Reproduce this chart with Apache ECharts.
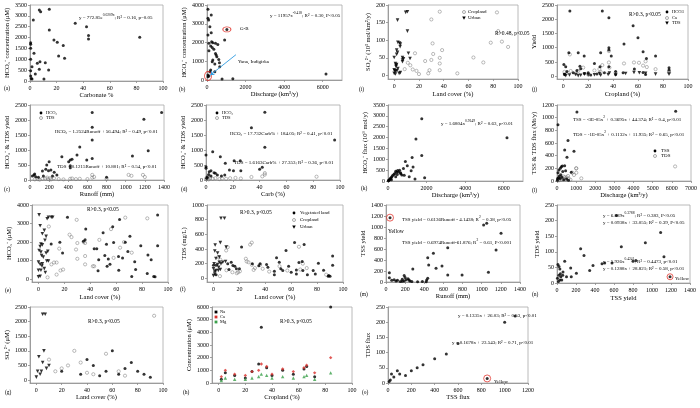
<!DOCTYPE html>
<html><head><meta charset="utf-8">
<script src="https://cdn.jsdelivr.net/npm/echarts@6/dist/echarts.min.js"></script>
<style>html,body{margin:0;padding:0;background:#fff}#c{width:700px;height:408px}</style>
</head><body><div id="c"></div>
<script>
// ---------- DATA ----------
// (a) Carbonate % vs HCO3- concentration
const A_carb = [0.5,0.5,0.5,0.5,0.5,0.5,1,1.5,1.5,3,2.5,4,5.5,7,8,7,7.5,10.5,11.5,14,14.5,14.5,18,20.5,21.5,25,26,34,42.5,44,44,82.5];
const A_hco3 = [1765,1690,1505,1000,475,230,120,90,660,1275,2810,320,815,3270,3190,540,890,90,845,510,3300,2350,1890,1780,1150,1630,1045,2655,2500,2090,1935,2010];
// (b) Discharge vs HCO3-
const B_q = [50,220,50,85,150,220,50,1030,915,100,240,300,440,560,190,270,100,355,440,475,510,300,270,610,645,405,660,190,150,405,50,50,100,780,1340,6170];
const B_hco3 = [3770,3470,3290,3200,2840,2520,2400,2700,2130,1955,2040,1990,1955,1900,1810,1740,1565,1635,1420,1330,1245,1065,980,1100,925,850,710,530,445,445,265,180,210,55,70,320];
const B_GB = [[1030,2700]];
const B_Yana = [[55,215]];
const B_arrow = [[1500,1350],[170,260]];
// (i) Land cover vs SO4 yield
const I_crop_x = [36.8,83,30,84,78,87,92,31,38.7,31.5,16.8,36.8,11,13,30,36.8,25,8.5,15,18,20,28.5,27.5,36.8,51,64,72];
const I_crop_y = [181,179,159,126,93,96,81,91,72,61,63,50,36,29,44,34,41,18,17,13,4,15,6,15,6,51,37];
const I_urb_x = [2.7,9.3,10.7,10.7,3,4.3,5,4.8,2,2.7,2,0,6.7,7.5,6.7,6.7,1,1.5,1.5,11.5,12.8,0,0.5,1.3,2.3,0,1,4,5,3,2];
const I_urb_y = [157,179,181,126,94,92,89,82,72,66,60,51,51,47,44,39,34,29,25,63,48,16,13,12,14,6,4,6,8,20,31];
// (j) Cropland vs yields
const J_hco3_x = [5.3,31.3,36.6,56,48.7,59.9,36.6,36.6,4.5,12,30,16.8,38.5,64,66.7,74,0.5,25,2,13.4,36.6,84.8,84.8,11,20,14,29.5,48,42,42,27,8,3,1,17,22,33,64,66,57];
const J_hco3_y = [2290,2290,2054,1772,1127,1350,998,915,822,822,822,704,704,857,620,704,411,446,329,352,329,294,220,200,120,260,330,120,160,60,80,120,160,60,90,40,120,130,60,250];
const J_ca_x = [5.3,36.6,60.7,48.7,56.7,66,36.6,84.8,74,31.3,29,25,37,16,12,6,1,2,10,20,42,64,67,84.8,30];
const J_ca_y = [763,880,470,446,481,520,481,176,246,387,250,200,300,300,180,180,150,80,90,60,120,370,320,130,150];
const J_tds_x = [50,56.7,61,74,84.8,66,37,36,30,25,20,14,10,5,2,1,42,29,17,12];
const J_tds_y = [94,130,120,70,70,100,110,60,30,50,40,30,60,40,20,50,40,90,70,20];
// (c) Runoff vs yields
const C_hco3_x = [650,650,650,650,520,491,439,421,404,421,421,593,333,200,175,165,218,193,130,253,281,25,42,49,60,140,235,88,1190,1375,1235,1070,800];
const C_hco3_y = [2250,1760,1330,720,1100,833,689,667,611,478,411,667,778,611,500,356,333,311,300,256,167,133,167,200,111,133,133,89,2022,2250,978,800,90];
const C_tds_x = [50,80,100,130,160,190,220,250,300,350,420,440,480,520,600,650,650,670,800,1030,1060,1180,1200,180,210];
const C_tds_y = [20,30,10,40,50,30,20,60,30,20,40,50,30,40,30,80,170,100,40,170,140,170,100,80,60];
// (d) Carb % vs yields
const D_hco3_x = [43.9,33.9,43.9,96,0,0,0,5,10.7,14.4,2.4,3.7,6,7,8.5,3.7,11.5,14,17.5,20.5,21,25.6,26,40,42,1,0.5,2];
const D_hco3_y = [2255,1744,1088,1330,830,445,390,944,777,555,278,311,244,222,167,133,133,167,333,311,644,644,311,355,422,100,60,180];
const D_tds_x = [33.9,43.9,43.9,42,82.5,0,1,2,3,5,7,10,12,15,18,22,26,0.5,1.5];
const D_tds_y = [100,180,230,120,110,30,50,20,60,40,60,30,50,40,60,70,50,80,120];
// (k) Discharge vs HCO3- flux
const K_q = [1750,1450,1750,1250,1300,900,1000,1200,800,600,500,400,450,550,650,300,350,480,660,720,840,1100,1400,1900,6170,200,160,100,60,40,120,240,400,20,180];
const K_f = [2870,1930,1180,1080,640,900,700,470,580,500,480,450,400,420,380,300,350,300,330,280,260,200,90,150,1990,200,150,80,50,30,120,250,200,10,60];
// (l) Discharge vs TSS & TDS flux
const L_tss_x = [50,1040,6200,574,400,887,522,226,278,400,52,104,174,748,300,450,200,120,80,30,150,250,350,500,600,20];
const L_tss_y = [890,1090,1100,640,490,470,374,226,237,242,132,174,200,137,150,160,100,80,50,40,40,60,20,30,10,10];
const L_tds_x = [1009,1009,1270,6170,887,574,400,300,200,250,450,500,600,150,100,50,700,350,800,1000];
const L_tds_y = [200,130,42,230,95,79,58,40,50,20,30,60,40,20,10,15,20,70,130,200];
// (e) Land cover vs HCO3-
const E_veg_x = [9.8,16.5,18.6,22.4,36.5,36,34.7,43,46.5,46,49.9,52.5,51.2,53.9,53,55.2,57.3,61.8,62.6,64.9,62,70.6,69,67,74.3,75,72,79,84.5,87,84,89,92,92,90,58,45];
const E_veg_y = [1900,1990,1410,3340,2700,2130,2040,1640,1050,460,2510,1890,1280,1090,700,800,2830,1230,3220,1140,480,2310,1500,1990,940,520,150,1800,1300,1050,310,140,3460,1800,130,1980,1640];
const E_crop_x = [8,24,25.5,29.5,35,36,29,30,36,30,14,16,12,19,17,14,10,7,42,47,56,63,67,66,72,84,58,36,43];
const E_crop_y = [2840,2400,2270,3200,2000,1950,1600,1100,800,1950,900,1650,900,520,470,250,800,100,700,2120,2700,1700,3320,2000,1430,3280,1150,1250,700];
const E_urb_x = [0.5,1.3,6.7,7.7,9.9,11,3,4.5,5.9,5,1.9,1.3,3,0.5,1.9,2.4,3.7,5.9,7.2,6.4,7.7,0,1.3,3,1.9,0,1.3,0,4.5,5.3,2.7];
const E_urb_y = [3470,2880,3260,3340,3340,3340,2450,2630,2310,2100,1900,1760,1850,1550,1460,1280,1190,1410,1500,980,980,920,800,830,480,480,160,125,570,360,710];
// (f) Land cover vs TDS
const F_veg_x = [21.7,56,62.6,70,92,92,48.7,50.8,52,53.5,47,47,58,60,64,64,66,68.5,69,72.5,77,78.6,81,85,88.6,90,89,41,42,11,13.7,15,16.5,17.7,36,35,30,20,12,2,1,2,0];
const F_veg_y = [427,380,487,460,303,180,280,218,129,106,97,50,166,83,115,60,216,230,106,50,106,60,207,110,30,30,40,188,152,200,218,175,164,129,200,170,200,130,120,180,100,50,180];
const F_crop_x = [29.6,28.3,25,25.6,27,29.6,31,32,36,38,9.8,11,3.7,5.3,14.6,19,20.4,43,51,57,67,66,69,72,87,5,10,18];
const F_crop_y = [487,460,267,230,220,184,115,140,184,130,380,425,290,253,83,83,96,92,166,106,120,430,200,140,50,30,110,70];
const F_urb_x = [5.8,8.5,5.3,1.3,9.8,1,3.2,4.5,1.9,4.5,0.5,3.2,5.8,7.2,9.3,0,1.9,3.7,0,1,5.3,4];
const F_urb_y = [820,820,487,455,425,372,345,290,270,220,198,188,198,220,230,130,106,106,37,60,120,150];
// (m) Runoff vs TSS yield
const M_x = [35,35,1020,1052,1202,1150,1070,645,495,436,446,523,585,280,645,795,436,425,60,85,105,150,170,190,200,210,230,250,270,330,380,420,190,120,240,170];
const M_y = [170,79,1036,1067,885,582,176,624,521,442,309,248,291,236,127,127,67,36,30,40,20,10,50,120,80,40,60,20,10,5,10,5,20,30,35,15];
const M_yellow = [[42,1170]];
// (n) TSS yield vs TDS yield
const N_x = [625,1091,930,677,249,284,579,474,502,379,344,81,144,204,63,10,21,30,800,830,1126,40,50,15,100,5,20,35,60,150,30];
const N_y = [216,162,129,116,110,88,64,62,64,56,40,70,48,31,35,59,53,45,70,72,84,20,10,5,20,15,25,30,25,20,10];
const N_yellow = [[1190,20]];
// (g) Land cover vs SO4
const G_veg_x = [20,35,45,55,60,65,70,80,90,50,40,75,85];
const G_veg_y = [300,200,500,300,1000,200,400,300,100,150,700,600,200];
const G_crop_x = [93,30,25,15,35,45,55,65,70,10,20,40];
const G_crop_y = [2200,1000,500,300,600,200,900,300,150,700,400,250];
const G_urb_x = [5,7,2,5,8,1,3,0,10,6,4];
const G_urb_y = [2250,2250,800,600,400,300,200,100,500,1000,300];
// (h) Cropland vs concentrations
const H_na_x = [32,84,30,36,5,12,25,48,56,64,66,72,2,20,40];
const H_na_y = [4400,6000,1500,1200,800,600,900,1000,700,1100,1300,500,300,400,600];
const H_ca_x = [84,32,36,5,12,25,48,56,64,66,72,2,20,40,30];
const H_ca_y = [2000,1500,1300,1000,700,900,1100,900,1200,1400,800,500,600,700,1000];
const H_mg_x = [32,36,5,12,25,48,56,64,66,72,2,20,40,84,30];
const H_mg_y = [700,600,400,300,400,500,400,500,600,300,200,300,400,800,500];
// (o) TSS flux vs TDS flux
const O_x = [1090,1000,600,500,400,300,250,200,100,50,20,150,80,30,10];
const O_y = [220,200,130,95,80,60,50,40,30,20,10,25,40,30,5];
const O_yellow = [[850,15]];

// ---------- BUILD ----------
const FONT = 'Liberation Serif';
const grids=[], xAxes=[], yAxes=[], series=[], graphics=[];
const zip=(xs,ys)=>xs.map((x,i)=>[x,ys[i]]);
function ticks(a,b,s){const r=[];for(let v=a;v<=b+1e-9;v+=s)r.push(+v.toFixed(6));return r;}
function axisCfg(gi,a,dim){
  return {gridIndex:gi,type:'value',min:a.min,max:a.max,
    name:a.name,nameLocation:'middle',nameGap:a.gap,nameRotate:dim==='y'?90:0,
    nameTextStyle:{fontFamily:FONT,fontSize:6.5,color:'#000'},
    axisLine:{show:true,onZero:false,lineStyle:{color:'#8c8c8c',width:0.8}},
    axisTick:{show:true,length:2,customValues:a.ticks,lineStyle:{color:'#8c8c8c',width:0.8}},
    axisLabel:{customValues:a.ticks,fontFamily:FONT,fontSize:6,color:'#000',margin:dim==='y'?3:4,hideOverlap:false,formatter:(v)=>String(v)},
    splitLine:{show:false}};
}
function panel(box,xa,ya){
  const gi=grids.length;
  grids.push({left:box[0],top:box[1],width:box[2],height:box[3],show:true,borderColor:'#a8a8a8',borderWidth:0.8});
  xAxes.push(axisCfg(gi,xa,'x'));
  yAxes.push(axisCfg(gi,ya,'y'));
  return gi;
}
const MK={
  dot:{symbol:'circle',symbolSize:3,itemStyle:{color:'#000'}},
  open:{symbol:'circle',symbolSize:3.2,itemStyle:{color:'rgba(0,0,0,0)',borderColor:'#707070',borderWidth:0.6}},
  tri:{symbol:'triangle',symbolSize:3.6,symbolRotate:180,itemStyle:{color:'#000'}},
  red:{symbol:'diamond',symbolSize:3.4,itemStyle:{color:'#d9302c'}},
  green:{symbol:'triangle',symbolSize:3.4,itemStyle:{color:'#3aa04a'}}
};
function sc(gi,data,mk,extra){
  series.push(Object.assign({type:'scatter',xAxisIndex:gi,yAxisIndex:gi,data:data,silent:true,animation:false,z:3},MK[mk],extra||{}));
}
function ring(gi,data,size){
  series.push({type:'scatter',xAxisIndex:gi,yAxisIndex:gi,data:data,symbol:'circle',symbolSize:size,silent:true,animation:false,z:4,
    itemStyle:{color:'rgba(0,0,0,0)',borderColor:'#e0241c',borderWidth:0.9}});
}
function txt(x,y,s,size,extra){
  graphics.push({type:'text',left:x,top:y,z:100,silent:true,style:Object.assign({text:s,fontFamily:FONT,fontSize:size||6,fill:'#000'},extra||{})});
}
const mctx=document.createElement('canvas').getContext('2d');
function tw(s,f){mctx.font=f+'px "'+FONT+'"';return mctx.measureText(s).width;}
function eq(x,y,parts,size){ // parts: [text, isSuperscript]
  const f=size||5; let cx=x;
  for(const [s,sup] of parts){const fs=sup?f*0.72:f; txt(cx,sup?y-1.6:y,s,fs); cx+=tw(s,fs);}
}
function legDot(x,y){graphics.push({type:'circle',shape:{cx:x,cy:y,r:1.4},style:{fill:'#000'},silent:true,z:100});}
function legOpen(x,y){graphics.push({type:'circle',shape:{cx:x,cy:y,r:1.5},style:{fill:'none',stroke:'#707070',lineWidth:0.6},silent:true,z:100});}
function legTri(x,y){graphics.push({type:'polygon',shape:{points:[[x-1.8,y-1.4],[x+1.8,y-1.4],[x,y+1.8]]},style:{fill:'#000'},silent:true,z:100});}
function legSq(x,y,c){graphics.push({type:'rect',shape:{x:x-1.4,y:y-1.4,width:2.8,height:2.8},style:{fill:c},silent:true,z:100});}

// (a)
let g=panel([30,5,133,76],{min:0,max:100,ticks:ticks(0,100,20),name:'Carbonate %',gap:11},
  {min:0,max:3500,ticks:ticks(0,3500,500),name:'HCO₃⁻ concentration (μM)',gap:19});
sc(g,zip(A_carb,A_hco3),'dot');
eq(79,15,[['y = 772.85e',0],['0.0209x',1],['; R² = 0.16, p=0.05',0]]);
txt(4,86,'(a)',5.5);
// (b)
g=panel([207,5,135,75],{min:0,max:7000,ticks:ticks(0,6000,2000),name:'Discharge (km³/y)',gap:11},
  {min:0,max:4000,ticks:ticks(0,4000,1000),name:'HCO₃⁻ concentration (μM)',gap:19});
sc(g,zip(B_q,B_hco3),'dot');
ring(g,B_GB,[8,5]); ring(g,B_Yana,[7,9]);
series.push({type:'lines',coordinateSystem:'cartesian2d',xAxisIndex:g,yAxisIndex:g,silent:true,animation:false,z:5,
  data:[{coords:B_arrow}],symbol:['none','arrow'],symbolSize:4,lineStyle:{color:'#2f9be0',width:0.9,opacity:1}});
eq(270,13,[['y = 11957x',0],['-0.418',1],['; R² = 0.30, P<0.05',0]]);
txt(240,26,'G-B',5);
txt(238,59,'Yana, Indigirka',5);
txt(179,87,'(b)',5.5);
// (i)
g=panel([388,5,130,74],{min:-5,max:100,ticks:ticks(0,100,20),name:'Land cover (%)',gap:12},
  {min:-10,max:200,ticks:ticks(0,200,50),name:'SO₄²⁻ (10³ mol/km²/y)',gap:15});
sc(g,zip(I_crop_x,I_crop_y),'open'); sc(g,zip(I_urb_x,I_urb_y),'tri');
legOpen(464,12); txt(468,9,'Cropland',5); legTri(464,18); txt(468,15,'Urban',5);
txt(495,31,'R>0.48, p<0.05',5.5);
txt(359,87,'(i)',5.5);
// (j)
g=panel([557,5,131,74],{min:-5,max:100,ticks:ticks(0,100,20),name:'Cropland (%)',gap:12},
  {min:-100,max:2500,ticks:ticks(0,2500,500),name:'Yield',gap:19});
sc(g,zip(J_ca_x,J_ca_y),'open'); sc(g,zip(J_tds_x,J_tds_y),'tri'); sc(g,zip(J_hco3_x,J_hco3_y),'dot');
legDot(667,12); txt(672,9,'HCO3',4.5); legOpen(667,18); txt(672,15,'Ca',4.5); legTri(667,23); txt(672,20.5,'TDS',4.5);
txt(629,12,'R>0.3, p<0.05',5.5);
txt(532,87,'(j)',5.5);
// (c)
g=panel([30,105,134,75],{min:0,max:1400,ticks:ticks(0,1400,200),name:'Runoff (mm)',gap:11},
  {min:0,max:2500,ticks:ticks(0,2500,500),name:'HCO₃⁻ & TDS yield',gap:19});
sc(g,zip(C_tds_x,C_tds_y),'open'); sc(g,zip(C_hco3_x,C_hco3_y),'dot');
legDot(41,113); txt(46,110,'HCO₃',4.5); legOpen(41,118); txt(46,115.5,'TDS',4.5);
txt(55,129,'HCO₃ = 1.2524Runoff + 56.494; R² = 0.49, p<0.01',5);
txt(57,164,'TDS = 0.1215Runoff + 10.801; R² = 0.54, p<0.01',5);
txt(4,187,'(c)',5.5);
// (d)
g=panel([206,105,134,75],{min:0,max:100,ticks:ticks(0,100,20),name:'Carb (%)',gap:11},
  {min:0,max:2500,ticks:ticks(0,2500,500),name:'HCO₃⁻ & TDS yield',gap:19});
sc(g,zip(D_tds_x,D_tds_y),'open'); sc(g,zip(D_hco3_x,D_hco3_y),'dot');
legDot(217,113); txt(222,110,'HCO₃',4.5); legOpen(217,118); txt(222,115.5,'TDS',4.5);
txt(230,131,'HCO₃ = 17.732Carb% + 184.05; R² = 0.41, p<0.01',5);
txt(234,160,'TDS = 1.6163Carb% + 27.353; R² = 0.36, p<0.01',5);
txt(181,187,'(d)',5.5);
// (k)
g=panel([388,105,135,76],{min:0,max:7000,ticks:ticks(0,6000,2000),name:'Discharge (km³/y)',gap:11},
  {min:0,max:3500,ticks:ticks(0,3500,500),name:'HCO₃⁻ flux (10⁹ mol/y)',gap:19});
sc(g,zip(K_q,K_f),'dot');
eq(441,121,[['y = 1.6804x',0],['0.9149',1],['; R² = 0.63, p<0.01',0]]);
txt(361,186,'(k)',5.5);
// (l)
g=panel([557,105,135,76],{min:0,max:7000,ticks:ticks(0,7000,1000),name:'Discharge (km³/y)',gap:11},
  {min:0,max:1200,ticks:ticks(0,1200,200),name:'TSS & TDS flux (Mt/y)',gap:17});
sc(g,zip(L_tds_x,L_tds_y),'open'); sc(g,zip(L_tss_x,L_tss_y),'dot');
eq(573,117,[['TSS = -3E-05x',0],['2',1],[' + 0.3695x + 44.374; R² = 0.4, p<0.01',0]]);
eq(573,132,[['TDS = -1E-05x',0],['2',1],[' + 0.1132x + 11.935; R² = 0.65, p<0.01',0]]);
legDot(655,151); txt(661,148,'TSS',5); legOpen(655,156); txt(661,153.5,'TDS',5);
txt(532,188,'(l)',5.5);
// (e)
g=panel([32,205,136,77],{min:-5,max:100,ticks:ticks(0,100,20),name:'Land cover (%)',gap:12},
  {min:-150,max:4000,ticks:ticks(0,4000,1000),name:'HCO₃⁻ (μM)',gap:19});
sc(g,zip(E_crop_x,E_crop_y),'open'); sc(g,zip(E_veg_x,E_veg_y),'dot'); sc(g,zip(E_urb_x,E_urb_y),'tri');
txt(87,207,'R>0.3, p<0.05',5.5);
txt(5,288,'(e)',5.5);
// (f)
g=panel([207,205,136,77],{min:-5,max:100,ticks:ticks(0,100,20),name:'Land cover (%)',gap:12},
  {min:-50,max:1000,ticks:ticks(0,1000,200),name:'TDS (mg/L)',gap:17});
sc(g,zip(F_crop_x,F_crop_y),'open'); sc(g,zip(F_veg_x,F_veg_y),'dot'); sc(g,zip(F_urb_x,F_urb_y),'tri');
legDot(294,213); txt(300,210.5,'Vegetated land',5); legOpen(294,220); txt(300,217.5,'Cropland',5); legTri(294,227); txt(300,224.5,'Urban',5);
txt(240,210,'R>0.3, p<0.05',5.5);
txt(180,287,'(f)',5.5);
// (m)
g=panel([386,205,134,77],{min:0,max:1400,ticks:ticks(0,1400,200),name:'Runoff (mm)',gap:11},
  {min:0,max:1400,ticks:ticks(0,1400,200),name:'TSS yield',gap:18});
sc(g,zip(M_x,M_y),'dot'); sc(g,M_yellow,'dot'); ring(g,M_yellow,[7,7]);
txt(388,229,'Yellow',5.5);
eq(402,217,[['TSS yield = 0.6136Runoff - 4.1438; R',0],['2',1],[' = 0.38, p<0.05',0]]);
eq(402,240,[['TSS yield = 0.6974Runoff-61.876; R',0],['2',1],[' = 0.61, P<0.001',0]]);
txt(360,292,'(m)',5.5);
// (n)
g=panel([557,205,133,78],{min:0,max:1400,ticks:ticks(0,1400,200),name:'TSS yield',gap:12},
  {min:0,max:250,ticks:ticks(0,250,50),name:'TDS yield',gap:16});
sc(g,zip(N_x,N_y),'dot'); sc(g,N_yellow,'dot'); ring(g,N_yellow,[6,6]);
txt(675,276,'Yellow',5);
eq(603,213,[['y = 6.889x',0],['0.3788',1],['; R² = 0.383, P<0.05',0]]);
txt(603,220,'y = 0.0938x + 33.055; R² = 0.39, P<0.05',5);
eq(603,259,[['y = 5.926x',0],['0.4241',1],['; R² = 0.4473, p<0.01',0]]);
txt(603,266,'y = 0.1288x + 28.821; R² = 0.58, p<0.01',5);
txt(532,292,'(n)',5.5);
// (g)
g=panel([30,307,133,76],{min:-5,max:100,ticks:ticks(0,100,20),name:'Land cover (%)',gap:11},
  {min:-100,max:2500,ticks:ticks(0,2500,500),name:'SO₄²⁻ (μM)',gap:19});
sc(g,zip(G_crop_x,G_crop_y),'open'); sc(g,zip(G_veg_x,G_veg_y),'dot'); sc(g,zip(G_urb_x,G_urb_y),'tri');
txt(88,319,'R>0.3, p<0.05',5.5);
txt(5,390,'(g)',5.5);
// (h)
g=panel([212,307,140,76],{min:-5,max:100,ticks:ticks(0,100,20),name:'Cropland (%)',gap:11},
  {min:0,max:6000,ticks:ticks(0,6000,1000),name:'Concentration (μM)',gap:19});
sc(g,zip(H_na_x,H_na_y),'dot'); sc(g,zip(H_ca_x,H_ca_y),'red'); sc(g,zip(H_mg_x,H_mg_y),'green');
legSq(216,312,'#000'); txt(220,309.5,'Na',4.5); legSq(216,317,'#d9302c'); txt(220,314.5,'Ca',4.5); legSq(216,322,'#3aa04a'); txt(220,319.5,'Mg',4.5);
txt(280,319,'R>0.3, p<0.05',5.5);
txt(183,390,'(h)',5.5);
// (o)
g=panel([388,307,140,76],{min:0,max:1200,ticks:ticks(0,1200,200),name:'TSS flux',gap:11},
  {min:0,max:250,ticks:ticks(0,250,50),name:'TDS flux',gap:16});
sc(g,zip(O_x,O_y),'dot'); sc(g,O_yellow,'dot'); ring(g,O_yellow,[7,7]);
txt(494,379,'Yellow',5);
txt(458,313,'y = 0.1335x + 26.03; R² = 0.53, p<0.01',5);
txt(452,340,'y = 0.1678x + 23.543; R² = 0.71, p<0.01',5);
txt(362,390,'(o)',5.5);

const chart=echarts.init(document.getElementById('c'),null,{renderer:'canvas',width:700,height:408});
chart.setOption({animation:false,backgroundColor:'#fff',textStyle:{fontFamily:FONT},
  grid:grids,xAxis:xAxes,yAxis:yAxes,series:series,graphic:{elements:graphics}});
</script></body></html>
